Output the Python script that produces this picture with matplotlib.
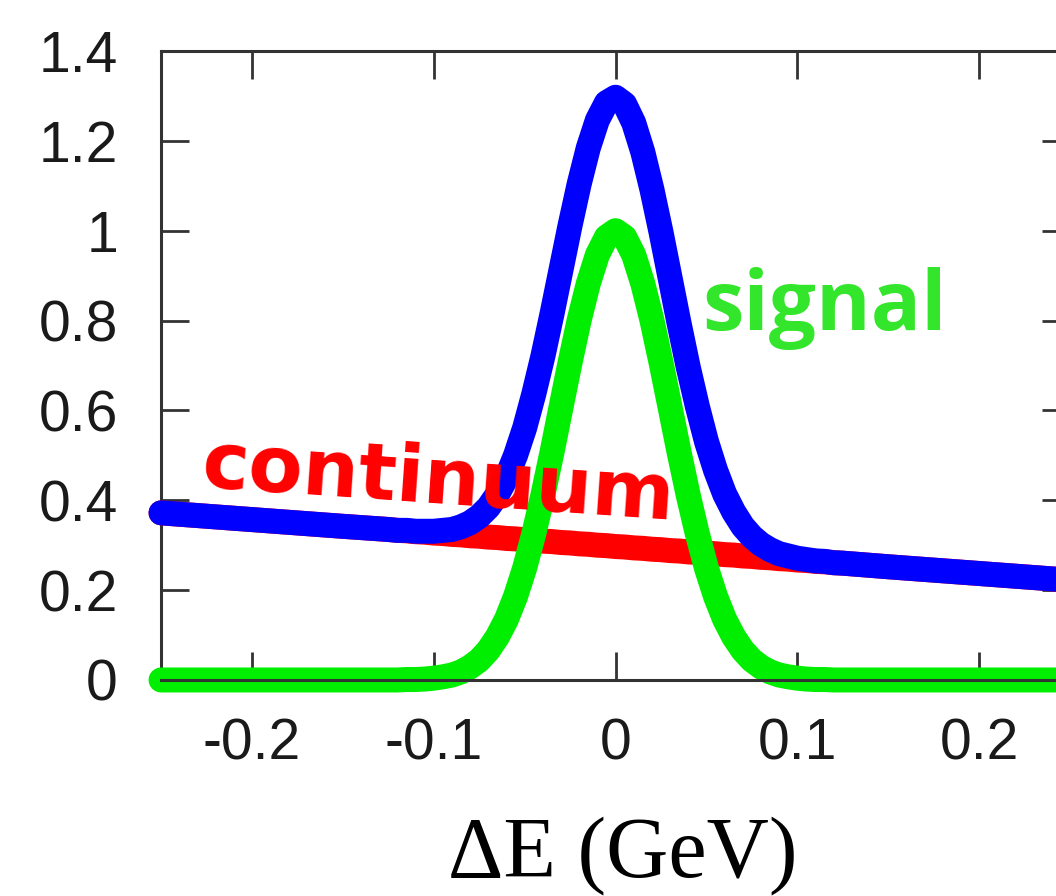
import numpy as np
import matplotlib
matplotlib.use("Agg")
import matplotlib.pyplot as plt

# Delta E grid (GeV) and curve heights
de = [-0.25, -0.20, -0.15, -0.125,
      -0.120, -0.115, -0.110, -0.105, -0.100, -0.095, -0.090, -0.085,
      -0.080, -0.075, -0.070, -0.065, -0.060, -0.055, -0.050, -0.045,
      -0.040, -0.035, -0.030, -0.025, -0.020, -0.015, -0.010, -0.005,
      0.000,
      0.005, 0.010, 0.015, 0.020, 0.025, 0.030, 0.035, 0.040,
      0.045, 0.050, 0.055, 0.060, 0.065, 0.070, 0.075, 0.080,
      0.085, 0.090, 0.095, 0.100, 0.105, 0.110, 0.115, 0.120,
      0.125, 0.15, 0.20, 0.25]

signal = [0.0, 0.0, 0.0, 0.0,
          0.0, 0.001, 0.001, 0.002, 0.004, 0.007, 0.011, 0.018,
          0.029, 0.044, 0.066, 0.096, 0.135, 0.186, 0.249, 0.325,
          0.411, 0.506, 0.607, 0.707, 0.801, 0.882, 0.946, 0.986,
          1.000,
          0.986, 0.946, 0.882, 0.801, 0.707, 0.607, 0.506, 0.411,
          0.325, 0.249, 0.186, 0.135, 0.096, 0.066, 0.044, 0.029,
          0.018, 0.011, 0.007, 0.004, 0.002, 0.001, 0.001, 0.0,
          0.0, 0.0, 0.0, 0.0]

continuum = [0.372, 0.357, 0.342, 0.335,
             0.333, 0.332, 0.330, 0.329, 0.327, 0.326, 0.324, 0.323,
             0.321, 0.320, 0.318, 0.317, 0.315, 0.314, 0.312, 0.311,
             0.309, 0.308, 0.306, 0.305, 0.303, 0.302, 0.300, 0.299,
             0.297,
             0.296, 0.294, 0.293, 0.291, 0.290, 0.288, 0.287, 0.285,
             0.284, 0.282, 0.281, 0.279, 0.278, 0.276, 0.275, 0.273,
             0.272, 0.270, 0.269, 0.267, 0.266, 0.264, 0.263, 0.261,
             0.260, 0.252, 0.237, 0.222]

xticks = [-0.2, -0.1, 0, 0.1, 0.2]
xticklabels = ["-0.2", "-0.1", "0", "0.1", "0.2"]
yticks = [0, 0.2, 0.4, 0.6, 0.8, 1.0, 1.2, 1.4]
yticklabels = ["0", "0.2", "0.4", "0.6", "0.8", "1", "1.2", "1.4"]

total = np.array(signal) + np.array(continuum)

fig = plt.figure(figsize=(10.56, 8.96), dpi=100)
ax = fig.add_axes([0.1525, 0.2411, 0.8608, 0.702])

lw = 18
ax.plot(de, continuum, color="#ff0000", lw=lw, solid_capstyle="round",
        solid_joinstyle="round", clip_on=False, zorder=2)
ax.plot(de, total, color="#0000ff", lw=lw, solid_capstyle="round",
        solid_joinstyle="round", clip_on=False, zorder=3)
ax.plot(de, signal, color="#00ee00", lw=lw, solid_capstyle="round",
        solid_joinstyle="round", clip_on=False, zorder=4)

ax.set_xlim(-0.25, 0.25)
ax.set_ylim(0, 1.4)
ax.set_xticks(xticks)
ax.set_xticklabels(xticklabels)
ax.set_yticks(yticks)
ax.set_yticklabels(yticklabels)

frame = "#333333"
for side, sp in ax.spines.items():
    sp.set_color(frame)
    sp.set_linewidth(2.2)
ax.spines["left"].set_zorder(1)
ax.spines["bottom"].set_zorder(5)

ax.tick_params(axis="both", which="major", direction="in", length=20,
               width=2.0, color=frame, top=True, right=True,
               labelsize=41, labelcolor="#1a1a1a")
ax.tick_params(axis="y", pad=31)
ax.tick_params(axis="x", pad=27)
for lab in ax.get_xticklabels() + ax.get_yticklabels():
    lab.set_family("Liberation Sans")

ax.text(-0.2280, 0.4300, "continuum", color="#ff0000", fontsize=57,
        fontweight="bold", family="DejaVu Sans", rotation=-4,
        rotation_mode="anchor", ha="left", va="baseline", zorder=6)
ax.text(0.0478, 0.7795, "signal", color="#33e62b", fontsize=60,
        fontweight="bold", family="Open Sans", ha="left", va="baseline",
        zorder=6)

fig.text(623 / 1056, 1 - 876 / 896, "\u0394E (GeV)", ha="center",
         va="baseline", fontsize=62, family="Liberation Serif", color="black")

fig.savefig("out.png", dpi=100, facecolor="white")
